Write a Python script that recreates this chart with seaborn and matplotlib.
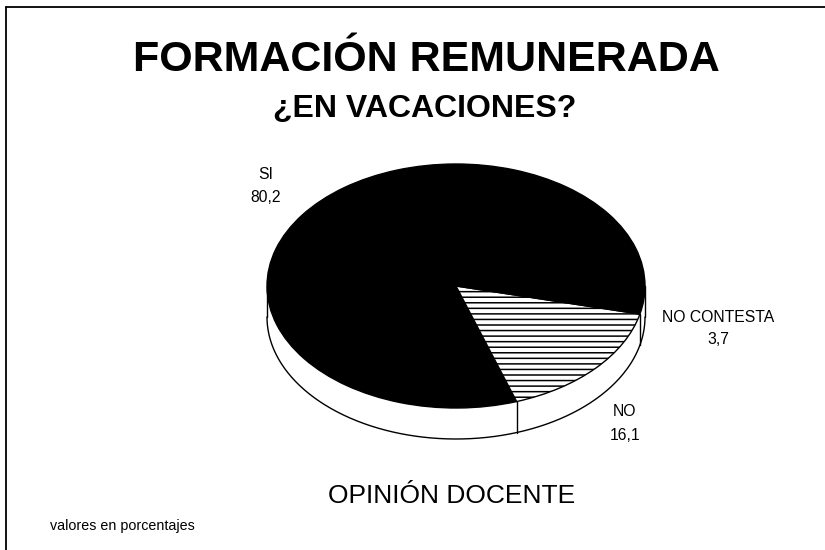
import numpy as np
import matplotlib
matplotlib.use("Agg")
import matplotlib.pyplot as plt
from matplotlib.lines import Line2D
import seaborn as sns

# datos (valores en porcentajes)
categorias = ["SI", "NO", "NO CONTESTA"]
valores = [80.2, 16.1, 3.7]
etiquetas = ["80,2", "16,1", "3,7"]
colores = ["black", "white", "black"]
tramas = [None, "---", None]

titulo = "FORMACIÓN REMUNERADA"
subtitulo = "¿EN VACACIONES?"
pie_texto = "OPINIÓN DOCENTE"
nota = "valores en porcentajes"

sns.set_theme(style="white")
plt.rcParams["font.family"] = ["Liberation Sans", "DejaVu Sans"]
plt.rcParams["text.color"] = "black"
plt.rcParams["hatch.linewidth"] = 1.1
plt.rcParams["hatch.color"] = "black"

W, H = 825, 550
fig = plt.figure(figsize=(W / 100, H / 100), dpi=100)
fig.patch.set_facecolor("white")

# geometria de la tarta en pixeles (centro, semiejes, grosor)
cx, cy = 456, 286
a, b = 189, 122
prof = 31 / b

x0, x1 = -1.3, 1.3
y0, y1 = -1.6, 1.3
ax = fig.add_axes([
    (cx + x0 * a) / W,
    (H - cy + y0 * b) / H,
    (x1 - x0) * a / W,
    (y1 - y0) * b / H,
])

wedges, _ = ax.pie(
    valores,
    colors=colores,
    startangle=0,
    counterclock=True,
    radius=1,
    wedgeprops=dict(edgecolor="black", linewidth=1.0),
)
for w, t in zip(wedges, tramas):
    w.set_zorder(3)
    if t:
        w.set_hatch(t)

# lateral de la tarta (efecto 3D)
t = np.linspace(np.pi, 2 * np.pi, 300)
xs = np.cos(t)
ys = np.sin(t)
ax.fill_between(xs, ys - prof, ys, color="white", zorder=1)
ax.plot(xs, ys - prof, color="black", lw=1.0, zorder=2)
ax.plot([-1, -1], [0, -prof], color="black", lw=1.0, zorder=2)
ax.plot([1, 1], [0, -prof], color="black", lw=1.0, zorder=2)

# aristas verticales en los limites de los sectores visibles
limites = np.cumsum(valores)[:-1] / 100 * 360
for ang in limites:
    r = np.deg2rad(ang)
    if np.sin(r) < 0:
        ax.plot([np.cos(r)] * 2, [np.sin(r), np.sin(r) - prof],
                color="black", lw=1.0, zorder=2)

ax.set_aspect("auto")
ax.set_xlim(x0, x1)
ax.set_ylim(y0, y1)
ax.axis("off")


def px(x, y):
    return x / W, 1 - y / H


# etiquetas de los sectores
pos_etiquetas = [(266, 175, 197), (625, 412, 435), (718, 318, 340)]
for cat, et, (lx, ly1, ly2) in zip(categorias, etiquetas, pos_etiquetas):
    fig.text(*px(lx, ly1), cat, ha="center", va="center", fontsize=11.3)
    fig.text(*px(lx, ly2), et, ha="center", va="center", fontsize=11.3)

# textos
fig.text(*px(426, 71), titulo, ha="center", va="baseline",
         fontsize=31, fontweight="bold")
fig.text(*px(425, 117), subtitulo, ha="center", va="baseline",
         fontsize=23, fontweight="bold")
fig.text(*px(452, 503), pie_texto, ha="center", va="baseline", fontsize=19)
fig.text(*px(50, 530), nota, ha="left", va="baseline", fontsize=10.3)

# marco (solo lineas superior e izquierda visibles)
fig.add_artist(Line2D([6 / W, 6 / W], [0, 1 - 7 / H], color="black",
                      lw=1.3, transform=fig.transFigure))
fig.add_artist(Line2D([6 / W, 1], [1 - 7 / H, 1 - 7 / H], color="black",
                      lw=1.3, transform=fig.transFigure))

fig.savefig("out.png", dpi=100, facecolor="white")
